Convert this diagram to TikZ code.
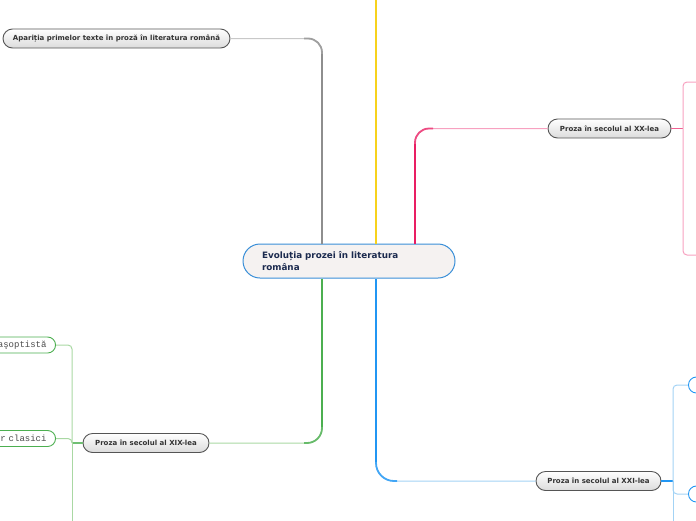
\documentclass[tikz,border=0pt]{standalone}
\usepackage{fontspec}
\setmainfont{DejaVu Sans}
\newfontfamily\leaffont{Liberation Mono}
\definecolor{graytrunk}{HTML}{8E8E8E}
\definecolor{graytwig}{HTML}{C8C8C8}
\definecolor{yellowtrunk}{HTML}{F7D21C}
\definecolor{pinktrunk}{HTML}{E91E63}
\definecolor{pinktwig}{HTML}{F7A1C0}
\definecolor{greentrunk}{HTML}{4CAF50}
\definecolor{greentwig}{HTML}{A9D8A3}
\definecolor{bluetrunk}{HTML}{2196F3}
\definecolor{bluetwig}{HTML}{A3D3F5}
\definecolor{centralborder}{HTML}{3A8FD8}
\definecolor{centralfill}{HTML}{F5F2F1}
\definecolor{centraltext}{HTML}{1B2A4E}
\definecolor{topicborder}{HTML}{555555}
\definecolor{topictext}{HTML}{333333}

\begin{document}
\begin{tikzpicture}[
    x=1pt, y=-1pt,
    central/.style={rectangle, draw=centralborder, line width=1pt, fill=centralfill, rounded corners=17pt, minimum width=212pt, minimum height=34pt, text width=174pt, align=left, inner sep=2pt, font=\fontsize{8.8}{12}\selectfont\bfseries, text=centraltext},
    topic/.style={rectangle, draw=topicborder, line width=0.9pt, top color=white, bottom color=black!14, rounded corners=9.5pt, minimum height=19pt, inner sep=0pt, font=\fontsize{7}{8}\selectfont\bfseries, text=topictext},
    leaf/.style={rectangle, draw=#1, line width=0.9pt, fill=white, rounded corners=8pt, minimum height=16pt, inner xsep=9pt, inner ysep=0pt, font=\fontsize{9}{10}\selectfont\leaffont, text=black!70},
    trunk/.style={line width=2.6pt},
    elbow/.style={line width=1.8pt},
    twig/.style={line width=1pt},
    stem/.style={line width=1.5pt}
]
    \useasboundingbox (0,0) rectangle (696,520);
    \clip (0,0) rectangle (696,520);

    % Central topic
    \node[central] (central) at (349,261) {Evoluția prozei în literatura\\româna};

    % Main topics
    \node[topic, minimum width=227pt] (apar) at (116.5,38.5) {Apariția primelor texte în proză în literatura română};
    \node[topic, minimum width=123pt] (xx) at (609.5,128.5) {Proza în secolul al XX-lea};
    \node[topic, minimum width=126pt] (xix) at (146,443) {Proza în secolul al XIX-lea};
    \node[topic, minimum width=125pt] (xxi) at (598.5,481) {Proza în secolul al XXI-lea};

    % Subtopics
    \node[leaf=greentrunk, text width=100pt, align=right, anchor=east] (pasopt) at (56,345) {aşoptistă};
    \node[leaf=greentrunk, text width=100pt, align=right, anchor=east] (clasici) at (56,438.5) {r clasici};
    \node[leaf=bluetrunk, minimum width=40pt, anchor=west] (bluefirst) at (688,385) {};
    \node[leaf=bluetrunk, minimum width=40pt, anchor=west] (bluesecond) at (688,494) {};

    % Bends and free ends
    \coordinate (graybend) at (322,54);
    \coordinate (graycorner) at (304,38.5);
    \coordinate (yellowend) at (376,-10);
    \coordinate (pinkbend) at (415,144);
    \coordinate (pinkcorner) at (433,128.5);
    \coordinate (greenbend) at (322,427);
    \coordinate (greencorner) at (304,443);
    \coordinate (bluebend) at (376,462);
    \coordinate (bluecorner) at (397,481);
    \coordinate (pinkjoint) at (683,128.5);
    \coordinate (pinkup) at (710,82);
    \coordinate (pinkdown) at (710,255);
    \coordinate (greenjoint) at (72,443);
    \coordinate (greendown) at (72,540);
    \coordinate (bluejoint) at (673,481);
    \coordinate (bluedown) at (673,540);

    % Branches from the central topic
    \draw[twig, graytwig, rounded corners=14pt] (central.north -| graybend) |- (apar.east);
    \draw[elbow, graytrunk!85, rounded corners=14pt] (graybend) |- (graycorner);
    \draw[trunk, graytrunk] (central.north -| graybend) -- (graybend);
    \draw[trunk, yellowtrunk] (central.north -| yellowend) -- (yellowend);
    \draw[twig, pinktwig, rounded corners=14pt] (central.north -| pinkbend) |- (xx.west);
    \draw[elbow, pinktrunk!80, rounded corners=14pt] (pinkbend) |- (pinkcorner);
    \draw[trunk, pinktrunk] (central.north -| pinkbend) -- (pinkbend);
    \draw[twig, greentwig, rounded corners=15pt] (central.south -| greenbend) |- (xix.east);
    \draw[elbow, greentrunk!85, rounded corners=15pt] (greenbend) |- (greencorner);
    \draw[trunk, greentrunk] (central.south -| greenbend) -- (greenbend);
    \draw[twig, bluetwig, rounded corners=18pt] (central.south -| bluebend) |- (xxi.west);
    \draw[elbow, bluetrunk!85, rounded corners=18pt] (bluebend) |- (bluecorner);
    \draw[trunk, bluetrunk] (central.south -| bluebend) -- (bluebend);

    % Sub-branches
    \draw[stem, pinktrunk!70] (xx.east) -- (pinkjoint);
    \draw[twig, pinktwig, rounded corners=4pt] (pinkjoint) |- (pinkup);
    \draw[twig, pinktwig, rounded corners=4pt] (pinkjoint) |- (pinkdown);
    \draw[stem, greentrunk!80] (xix.west) -- (greenjoint);
    \draw[twig, greentwig, rounded corners=4pt] (greenjoint) |- (pasopt.east);
    \draw[twig, greentwig, rounded corners=4pt] (greenjoint) |- (clasici.east);
    \draw[twig, greentwig] (greenjoint) -- (greendown);
    \draw[stem, bluetrunk] (xxi.east) -- (bluejoint);
    \draw[twig, bluetwig, rounded corners=4pt] (bluejoint) |- (bluefirst.west);
    \draw[twig, bluetwig, rounded corners=4pt] (bluejoint) |- (bluesecond.west);
    \draw[twig, bluetwig] (bluejoint) -- (bluedown);

\end{tikzpicture}
\end{document}
